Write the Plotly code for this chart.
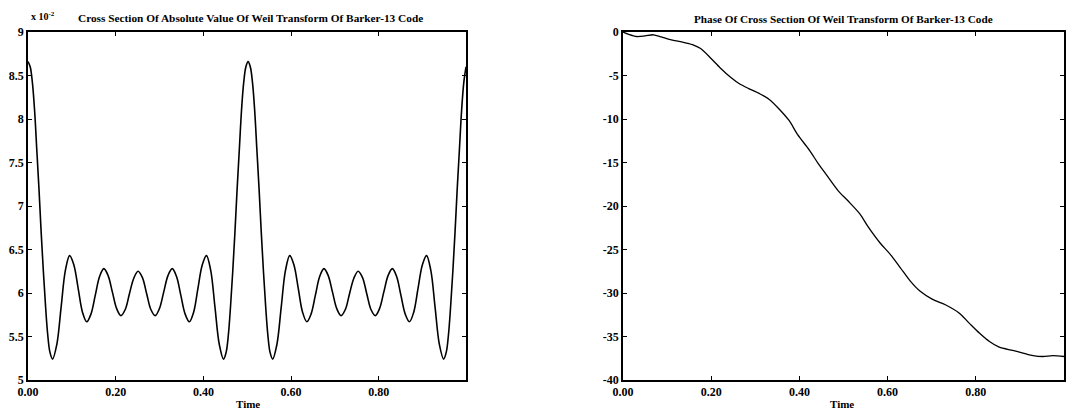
import plotly.graph_objects as go
from plotly.subplots import make_subplots

# Left panel: |Weil transform| cross section (values in units of 1e-2)
mag_t = [0.000, 0.005, 0.010, 0.015, 0.020, 0.025, 0.030, 0.035, 0.040, 0.045, 0.050,
         0.056, 0.06575, 0.0755, 0.08525, 0.095, 0.10475, 0.1145, 0.12425, 0.134, 0.14375,
         0.1535, 0.16325, 0.173, 0.18275, 0.1925, 0.20225, 0.212, 0.22175, 0.2315, 0.24125,
         0.251, 0.26075, 0.2705, 0.28025, 0.290, 0.29975, 0.3095, 0.31925, 0.329, 0.33875,
         0.3485, 0.35825, 0.368, 0.37775, 0.3875, 0.39725, 0.407, 0.41675, 0.4265, 0.43625,
         0.446,
         0.452, 0.457, 0.462, 0.467, 0.472, 0.477, 0.482, 0.487, 0.492, 0.497, 0.502,
         0.507, 0.512, 0.517, 0.522, 0.527, 0.532, 0.537, 0.542, 0.547, 0.552,
         0.558, 0.56775, 0.5775, 0.58725, 0.597, 0.60675, 0.6165, 0.62625, 0.636, 0.64575,
         0.6555, 0.66525, 0.675, 0.68475, 0.6945, 0.70425, 0.714, 0.72375, 0.7335, 0.74325,
         0.753, 0.76275, 0.7725, 0.78225, 0.792, 0.80175, 0.8115, 0.82125, 0.831, 0.84075,
         0.8505, 0.86025, 0.870, 0.87975, 0.8895, 0.89925, 0.909, 0.91875, 0.9285, 0.93825,
         0.948,
         0.954, 0.959, 0.964, 0.969, 0.974, 0.979, 0.984, 0.989, 0.994, 0.999]
mag_v = [8.66, 8.60, 8.42, 8.10, 7.65, 7.20, 6.70, 6.25, 5.85, 5.52, 5.32,
         5.24, 5.41, 5.835, 6.26, 6.43, 6.32, 6.05, 5.78, 5.67, 5.76,
         5.975, 6.19, 6.28, 6.20, 6.01, 5.82, 5.74, 5.81, 5.995, 6.17,
         6.25, 6.18, 5.995, 5.81, 5.74, 5.82, 6.01, 6.20, 6.28, 6.19,
         5.975, 5.76, 5.67, 5.78, 6.05, 6.32, 6.43, 6.26, 5.835, 5.41,
         5.24,
         5.32, 5.52, 5.85, 6.25, 6.70, 7.20, 7.65, 8.10, 8.42, 8.60, 8.66,
         8.60, 8.42, 8.10, 7.65, 7.20, 6.70, 6.25, 5.85, 5.52, 5.32,
         5.24, 5.41, 5.835, 6.26, 6.43, 6.32, 6.05, 5.78, 5.67, 5.76,
         5.975, 6.19, 6.28, 6.20, 6.01, 5.82, 5.74, 5.81, 5.995, 6.17,
         6.25, 6.18, 5.995, 5.81, 5.74, 5.82, 6.01, 6.20, 6.28, 6.19,
         5.975, 5.76, 5.67, 5.78, 6.05, 6.32, 6.43, 6.26, 5.835, 5.41,
         5.24,
         5.32, 5.52, 5.85, 6.25, 6.70, 7.20, 7.65, 8.10, 8.42, 8.60]

# Right panel: phase of the cross section
ph_t = [0.000, 0.013, 0.031, 0.050, 0.069, 0.087, 0.105, 0.124, 0.142, 0.160, 0.176,
        0.198, 0.220, 0.244, 0.264, 0.285, 0.310, 0.331, 0.355, 0.377, 0.396,
        0.423, 0.442, 0.461, 0.488, 0.510, 0.537, 0.556, 0.583, 0.606,
        0.629, 0.651, 0.674, 0.701, 0.731, 0.762, 0.785, 0.808, 0.831, 0.853,
        0.884, 0.907, 0.930, 0.952, 0.975, 1.000]
ph_v = [0.0, -0.27, -0.52, -0.45, -0.32, -0.57, -0.86, -1.05, -1.25, -1.50, -1.90,
        -2.95, -4.10, -5.20, -5.95, -6.50, -7.10, -7.72, -8.90, -10.20, -11.80,
        -13.60, -15.07, -16.40, -18.26, -19.40, -20.90, -22.40, -24.25, -25.56,
        -27.10, -28.60, -29.80, -30.70, -31.35, -32.30, -33.46, -34.60, -35.58, -36.23,
        -36.60, -36.90, -37.20, -37.30, -37.20, -37.30]

x_ticks = [0.0, 0.2, 0.4, 0.6, 0.8]
x_labels = ["0.00", "0.20", "0.40", "0.60", "0.80"]
mag_ticks = [5, 5.5, 6, 6.5, 7, 7.5, 8, 8.5, 9]
mag_labels = ["5", "5.5", "6", "6.5", "7", "7.5", "8", "8.5", "9"]
ph_ticks = [0, -5, -10, -15, -20, -25, -30, -35, -40]
ph_labels = ["0", "-5", "-10", "-15", "-20", "-25", "-30", "-35", "-40"]

W, H = 1066, 413
TOP, BOT = 32, 33
FONT = "Liberation Serif"

fig = make_subplots(rows=1, cols=2)
fig.add_trace(go.Scatter(x=mag_t, y=mag_v, mode="lines",
                         line=dict(color="black", width=1.6, shape="spline", smoothing=1.0)), row=1, col=1)
fig.add_trace(go.Scatter(x=ph_t, y=ph_v, mode="lines",
                         line=dict(color="black", width=1.3, shape="spline", smoothing=0.8)), row=1, col=2)

axis_common = dict(showline=True, linecolor="black", linewidth=1.6, mirror="ticks", ticks="inside",
                   ticklen=4, tickwidth=1.3, tickcolor="black", showgrid=False, zeroline=False,
                   automargin=False,
                   tickfont=dict(family=FONT, size=12, color="black", weight="bold"))

fig.update_layout(
    width=W, height=H, margin=dict(l=0, r=0, t=TOP, b=BOT),
    paper_bgcolor="white", plot_bgcolor="white", showlegend=False,
    xaxis=dict(domain=[28 / W, 466 / W], range=[0, 0.999], tickvals=x_ticks, ticktext=x_labels, **axis_common),
    yaxis=dict(range=[5, 9], tickvals=mag_ticks, ticktext=mag_labels, **axis_common),
    xaxis2=dict(domain=[623 / W, 1064 / W], range=[0, 1.0], tickvals=x_ticks, ticktext=x_labels, **axis_common),
    yaxis2=dict(range=[-40, 0], tickvals=ph_ticks, ticktext=ph_labels, **axis_common),
)

ph = H - TOP - BOT
def py(pix):
    return (H - BOT - pix) / ph

def ann(x, y, text, size, xanchor="center"):
    fig.add_annotation(x=x / W, y=py(y), xref="paper", yref="paper", showarrow=False,
                       xanchor=xanchor, yanchor="middle", text=text,
                       font=dict(family=FONT, size=size, color="black"))

ann(250, 18, "<b>Cross Section Of Absolute Value Of Weil Transform Of Barker-13 Code</b>", 11.3)
ann(843, 19, "<b>Phase Of Cross Section Of Weil Transform Of Barker-13 Code</b>", 11.2)
ann(29, 16, "<b>x 10<sup>-2</sup></b>", 10, xanchor="left")
ann(248, 404, "<b>Time</b>", 11)
ann(842, 404, "<b>Time</b>", 11)

fig.write_html("out.html")
